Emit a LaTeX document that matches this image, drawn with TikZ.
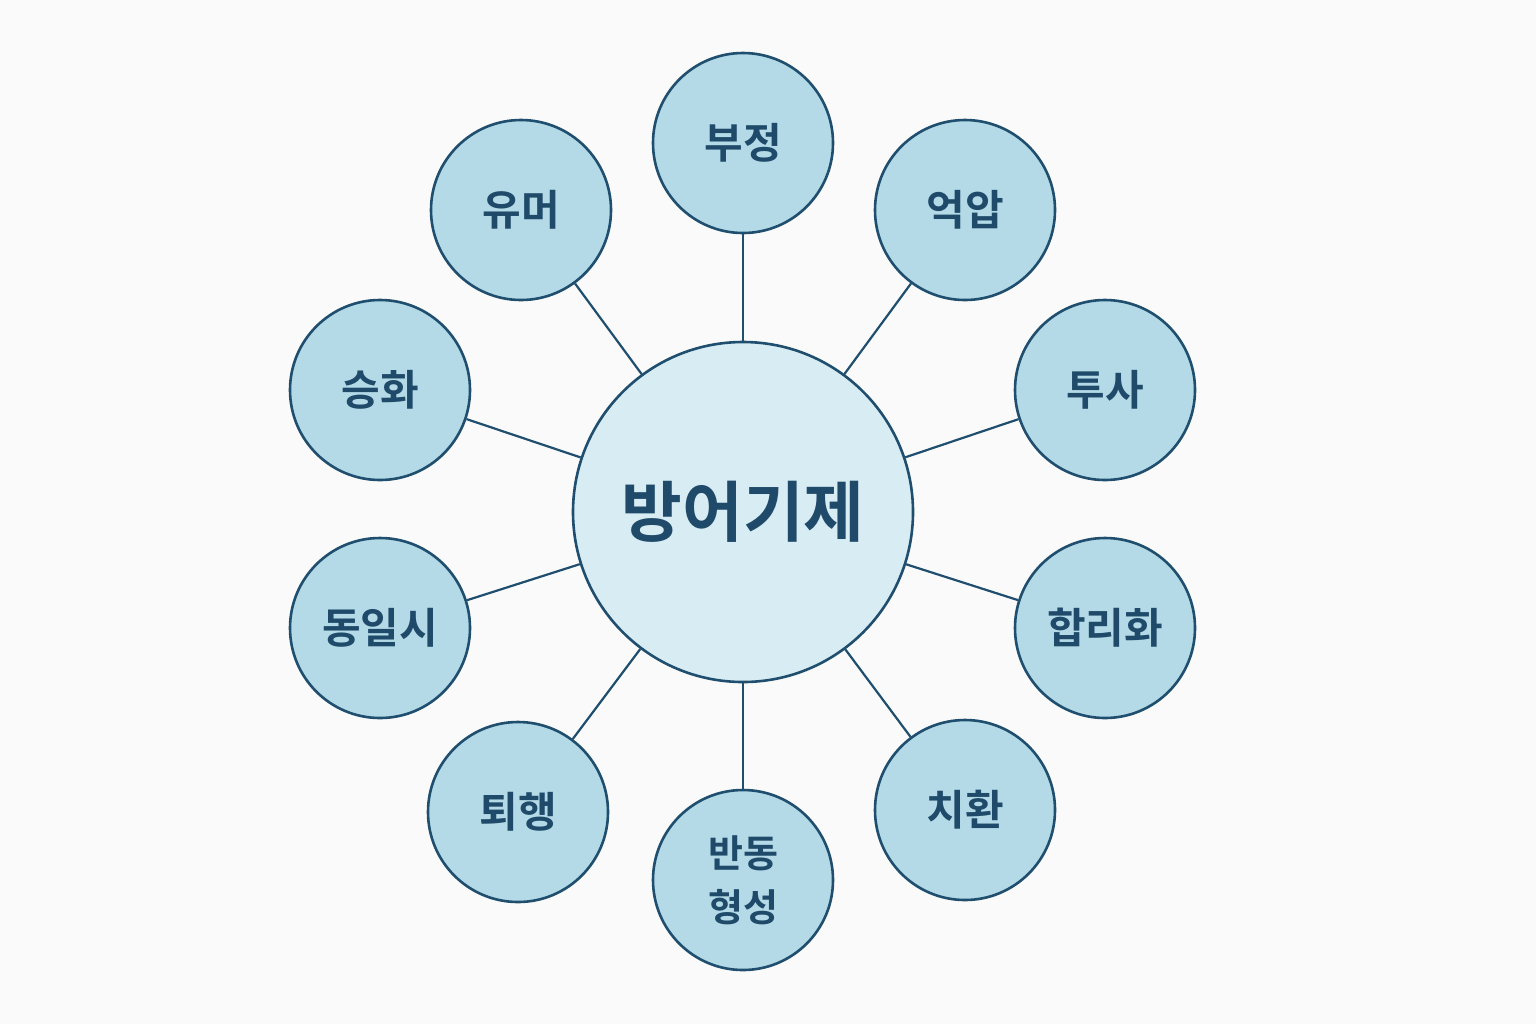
\documentclass[tikz,border=0pt]{standalone}
\usepackage{fontspec}
\newfontfamily\cjk{Noto Sans CJK KR}[BoldFont={Noto Sans CJK KR Bold}]
\definecolor{lineblue}{HTML}{1F4E6E}
\definecolor{textblue}{HTML}{1F4A6A}
\definecolor{outerfill}{HTML}{B3DAE6}
\definecolor{centerfill}{HTML}{D8ECF3}
\definecolor{paper}{HTML}{FAFAFA}
\begin{document}
\begin{tikzpicture}[x = 0.5pt, y = -0.5pt,
  mech/.style = {circle, fill = outerfill, draw = lineblue, line width = 1.3pt, minimum size = 90pt, inner sep = 0pt, align = center, text = textblue, font = \cjk\bfseries\fontsize{21}{25}\selectfont},
  hub/.style = {circle, fill = centerfill, draw = lineblue, line width = 1.3pt, minimum size = 170pt, inner sep = 0pt, text = textblue, font = \cjk\bfseries\fontsize{33}{38}\selectfont},
  spoke/.style = {draw = lineblue, line width = 1.1pt}]

\fill[paper] (0, 0) rectangle (1536, 1024);
\useasboundingbox (0, 0) rectangle (1536, 1024);

%%% Centre
\node [hub] (Defence) at (743, 512) {방어기제};

%%% Mechanisms
\node [mech] (Denial) at (743, 143) {부정};
\node [mech] (Repression) at (965, 210) {억압};
\node [mech] (Projection) at (1105, 390) {투사};
\node [mech] (Rationalisation) at (1105, 628) {합리화};
\node [mech] (Displacement) at (965, 810) {치환};
\node [mech, font = \cjk\bfseries\fontsize{19}{27}\selectfont] (Reaction) at (743, 880) {반동\\형성};
\node [mech] (Regression) at (518, 812) {퇴행};
\node [mech] (Identification) at (380, 628) {동일시};
\node [mech] (Sublimation) at (380, 390) {승화};
\node [mech] (Humour) at (521, 210) {유머};

%%% Spokes
\draw[spoke] (Defence) -- (Denial);
\draw[spoke] (Defence) -- (Repression);
\draw[spoke] (Defence) -- (Projection);
\draw[spoke] (Defence) -- (Rationalisation);
\draw[spoke] (Defence) -- (Displacement);
\draw[spoke] (Defence) -- (Reaction);
\draw[spoke] (Defence) -- (Regression);
\draw[spoke] (Defence) -- (Identification);
\draw[spoke] (Defence) -- (Sublimation);
\draw[spoke] (Defence) -- (Humour);

\end{tikzpicture}
\end{document}
